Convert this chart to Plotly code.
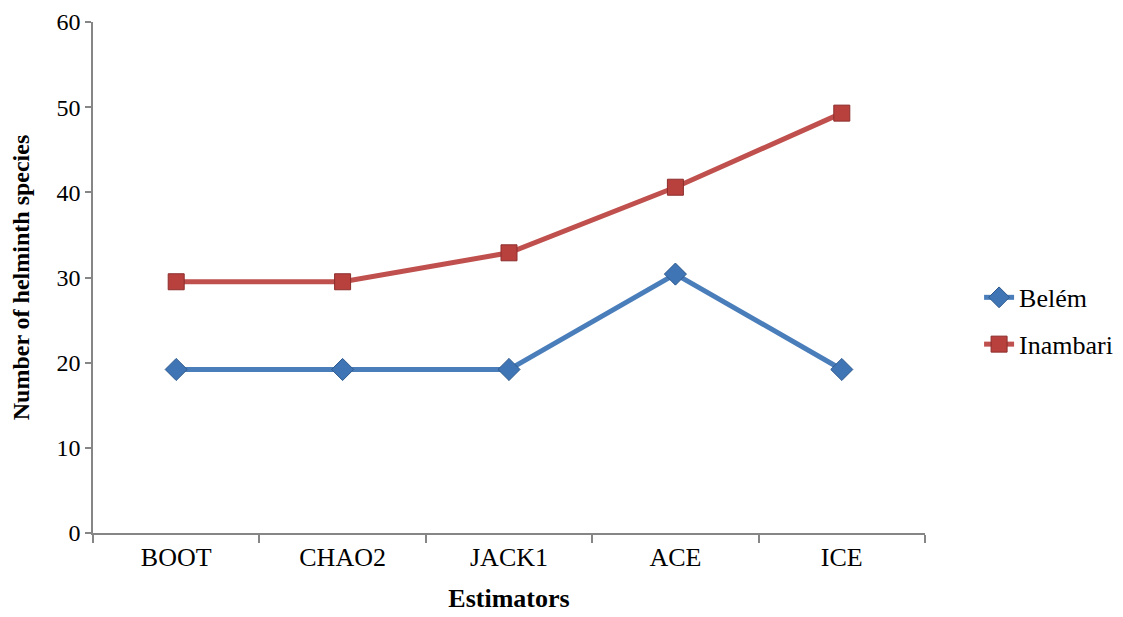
import plotly.graph_objects as go

categories = ["BOOT", "CHAO2", "JACK1", "ACE", "ICE"]
belem = [19.2, 19.2, 19.2, 30.4, 19.2]
inambari = [29.5, 29.5, 32.9, 40.6, 49.3]

fig = go.Figure()
fig.add_trace(go.Scatter(
    x=categories, y=belem, name="Belém", mode="lines+markers",
    legendgroup="a",
    line=dict(color="#4A7EBB", width=5),
    marker=dict(symbol="diamond", size=17, color="#3F75B5",
                line=dict(color="#2E5A8E", width=1)),
))
fig.add_trace(go.Scatter(
    x=categories, y=inambari, name="Inambari", mode="lines+markers",
    legendgroup="b",
    line=dict(color="#C0504D", width=5),
    marker=dict(symbol="square", size=16, color="#B8413E",
                line=dict(color="#8C2E2C", width=1)),
))

axis_color = "#868686"
fig.update_layout(
    width=1123, height=617,
    margin=dict(l=85, r=206, t=14, b=92),
    paper_bgcolor="white", plot_bgcolor="white",
    font=dict(family="Liberation Serif, Times New Roman, serif", size=24, color="black"),
    showlegend=True,
    legend=dict(x=1.065, y=0.415, xanchor="left", yanchor="middle",
                font=dict(size=26), traceorder="grouped", tracegroupgap=10,
                bgcolor="rgba(0,0,0,0)"),
    xaxis=dict(
        range=[-0.5, 4.5], automargin=False,
        showline=True, linecolor=axis_color, linewidth=1.5,
        ticks="outside", tickcolor=axis_color, ticklen=8, tickwidth=1.5,
        tickson="boundaries", showgrid=False, zeroline=False,
        tickfont=dict(size=26),
        title=dict(text="<b>Estimators</b>", font=dict(size=26), standoff=18),
    ),
    yaxis=dict(
        range=[0, 60], dtick=10, automargin=False,
        ticklabeloverflow="allow",
        showline=True, linecolor=axis_color, linewidth=1.5,
        ticks="outside", tickcolor=axis_color, ticklen=6, tickwidth=1.5,
        showgrid=False, zeroline=False,
        tickfont=dict(size=24),
        title=dict(text="<b>Number of helminth species</b>", font=dict(size=24), standoff=28),
    ),
)

fig.write_html("out.html")
